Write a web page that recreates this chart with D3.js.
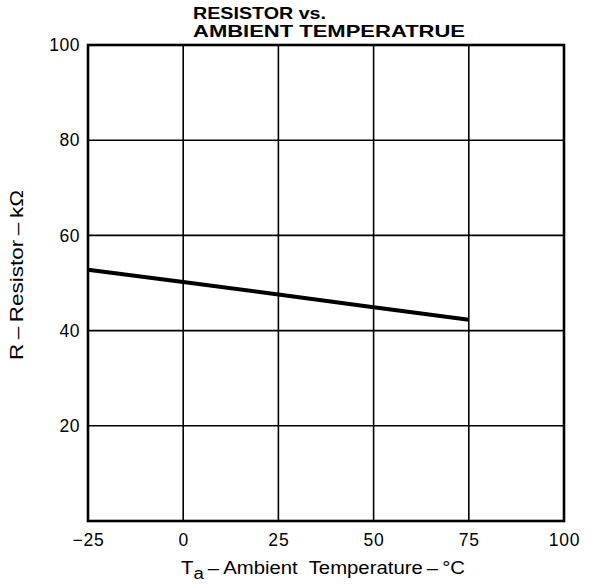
<!DOCTYPE html>
<html><head><meta charset="utf-8">
<script src="https://cdn.jsdelivr.net/npm/d3@7"></script>
<style>body{margin:0;background:#fff}svg{display:block}</style>
</head><body><svg id="c" width="596" height="585"></svg>
<script>
const temps = [-25, 0, 25, 50, 75];
const resistance = [52.8, 50.2, 47.6, 44.9, 42.3];
const xTicks = [-25, 0, 25, 50, 75, 100];
const yTicks = [20, 40, 60, 80, 100];
const titleLines = ["RESISTOR vs.", "AMBIENT TEMPERATRUE"];

const svg = d3.select("#c");
const L = 88, R = 564, T = 45, B = 521;
const x = d3.scaleLinear().domain([-25, 100]).range([L, R]);
const y = d3.scaleLinear().domain([0, 100]).range([B, T]);
const font = "'Liberation Sans', Arial, sans-serif";

// grid
svg.append("g").selectAll("line").data(xTicks.slice(1, -1)).join("line")
  .attr("x1", d => x(d)).attr("x2", d => x(d)).attr("y1", T).attr("y2", B)
  .attr("stroke", "#000").attr("stroke-width", 1.6);
svg.append("g").selectAll("line").data(yTicks.slice(0, -1)).join("line")
  .attr("x1", L).attr("x2", R).attr("y1", d => y(d)).attr("y2", d => y(d))
  .attr("stroke", "#000").attr("stroke-width", 1.6);
// frame
svg.append("rect").attr("x", L).attr("y", T).attr("width", R - L).attr("height", B - T)
  .attr("fill", "none").attr("stroke", "#000").attr("stroke-width", 2.6);

// axes labels
const xAxis = d3.axisBottom(x).tickValues(xTicks).tickSize(0).tickPadding(13)
  .tickFormat(d => d < 0 ? "\u2212" + Math.abs(d) : d);
const gx = svg.append("g").attr("transform", `translate(0,${B})`).call(xAxis);
gx.select(".domain").remove();
gx.selectAll("text").attr("font-family", font).attr("font-size", 17.5).attr("fill", "#000")
  .attr("letter-spacing", 0.8);

const yAxis = d3.axisLeft(y).tickValues(yTicks).tickSize(0).tickPadding(8);
const gy = svg.append("g").attr("transform", `translate(${L},0)`).call(yAxis);
gy.select(".domain").remove();
gy.selectAll("text").attr("font-family", font).attr("font-size", 17.5).attr("fill", "#000")
  .attr("letter-spacing", 0.5);

// data line
const line = d3.line().x((d, i) => x(temps[i])).y(d => y(d));
svg.append("path").datum(resistance).attr("d", line)
  .attr("fill", "none").attr("stroke", "#000").attr("stroke-width", 4);

// title
const titleWidths = [133, 272];
svg.append("g").selectAll("text").data(titleLines).join("text")
  .attr("x", 193).attr("y", (d, i) => 19 + i * 18)
  .attr("font-family", font).attr("font-weight", "bold").attr("font-size", 16.5)
  .attr("fill", "#000").attr("textLength", (d, i) => titleWidths[i])
  .attr("lengthAdjust", "spacingAndGlyphs").text(d => d);

// x title
const xt = svg.append("text").attr("x", 181).attr("y", 574)
  .attr("font-family", font).attr("font-size", 17.5).attr("fill", "#000")
  .attr("textLength", 284).attr("lengthAdjust", "spacingAndGlyphs");
xt.append("tspan").text("T");
xt.append("tspan").attr("dy", 5).attr("font-size", 16).text("a");
xt.append("tspan").attr("dy", -5).text("\u2009\u2013\u2009Ambient\u00A0 Temperature\u2009\u2013\u2009\u00B0C");

// y title
svg.append("text").attr("transform", `translate(23,${(T + B) / 2 - 8}) rotate(-90)`)
  .attr("text-anchor", "middle").attr("font-family", font).attr("font-size", 17.5)
  .attr("fill", "#000").attr("textLength", 170).attr("lengthAdjust", "spacingAndGlyphs")
  .text("R\u2009\u2013\u2009Resistor\u2009\u2013\u2009k\u03A9");
</script></body></html>
